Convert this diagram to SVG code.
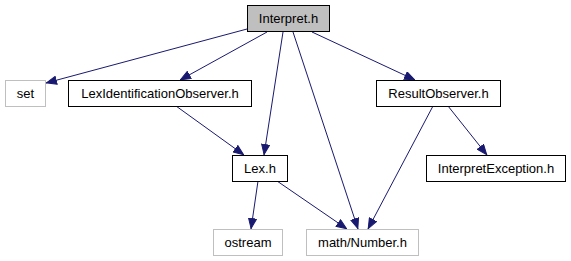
<svg xmlns="http://www.w3.org/2000/svg" width="571" height="261" viewBox="0 0 571 261">
  <style>
    .node rect { fill: #ffffff; stroke: #000000; stroke-width: 1; }
    .node.ext rect { stroke: #bfbfbf; }
    .node.root rect { fill: #bfbfbf; }
    .node text { font-family: "Liberation Sans", Arial, Helvetica, sans-serif; font-size: 13px; text-anchor: middle; fill: #000000; }
    .edges line { stroke: #191970; stroke-width: 1; fill: none; marker-end: url(#arrow); }
  </style>
  <defs>
    <marker id="arrow" markerUnits="userSpaceOnUse" markerWidth="11" markerHeight="9" refX="11" refY="4.5" orient="auto" viewBox="0 0 11 9">
      <path d="M0.5,0.5 L10.5,4.5 L0.5,8.5 z" fill="#191970" stroke="#191970" stroke-width="1"/>
    </marker>
  </defs>
  <rect width="571" height="261" fill="#ffffff"/>

  <g class="edges" id="edges">
    <line x1="247" y1="29" x2="46" y2="83"/>
    <line x1="267" y1="32" x2="180" y2="80"/>
    <line x1="283" y1="32" x2="264" y2="155"/>
    <line x1="293" y1="32" x2="358" y2="229"/>
    <line x1="312" y1="32" x2="415" y2="80"/>
    <line x1="176" y1="106" x2="244" y2="155"/>
    <line x1="433" y1="106" x2="368" y2="229"/>
    <line x1="448" y1="106" x2="487" y2="155"/>
    <line x1="258" y1="181" x2="251" y2="229"/>
    <line x1="277" y1="181" x2="347" y2="229"/>
  </g>

  <g class="node root" id="node-interpret">
    <rect x="247.5" y="5.5" width="82" height="26"/>
    <text x="288.5" y="23">Interpret.h</text>
  </g>
  <g class="node ext" id="node-set">
    <rect x="5.5" y="80.5" width="40" height="26"/>
    <text x="25.5" y="98">set</text>
  </g>
  <g class="node" id="node-lexidentificationobserver">
    <rect x="68.5" y="80.5" width="183" height="26"/>
    <text x="160" y="98">LexIdentificationObserver.h</text>
  </g>
  <g class="node" id="node-resultobserver">
    <rect x="376.5" y="80.5" width="124" height="26"/>
    <text x="438.5" y="98">ResultObserver.h</text>
  </g>
  <g class="node" id="node-lex">
    <rect x="232.5" y="155.5" width="55" height="26"/>
    <text x="260" y="173">Lex.h</text>
  </g>
  <g class="node" id="node-interpretexception">
    <rect x="426.5" y="155.5" width="139" height="26"/>
    <text x="496" y="173">InterpretException.h</text>
  </g>
  <g class="node ext" id="node-ostream">
    <rect x="213.5" y="229.5" width="69" height="26"/>
    <text x="248" y="247">ostream</text>
  </g>
  <g class="node ext" id="node-number">
    <rect x="306.5" y="229.5" width="112" height="26"/>
    <text x="362.5" y="247">math/Number.h</text>
  </g>
</svg>
